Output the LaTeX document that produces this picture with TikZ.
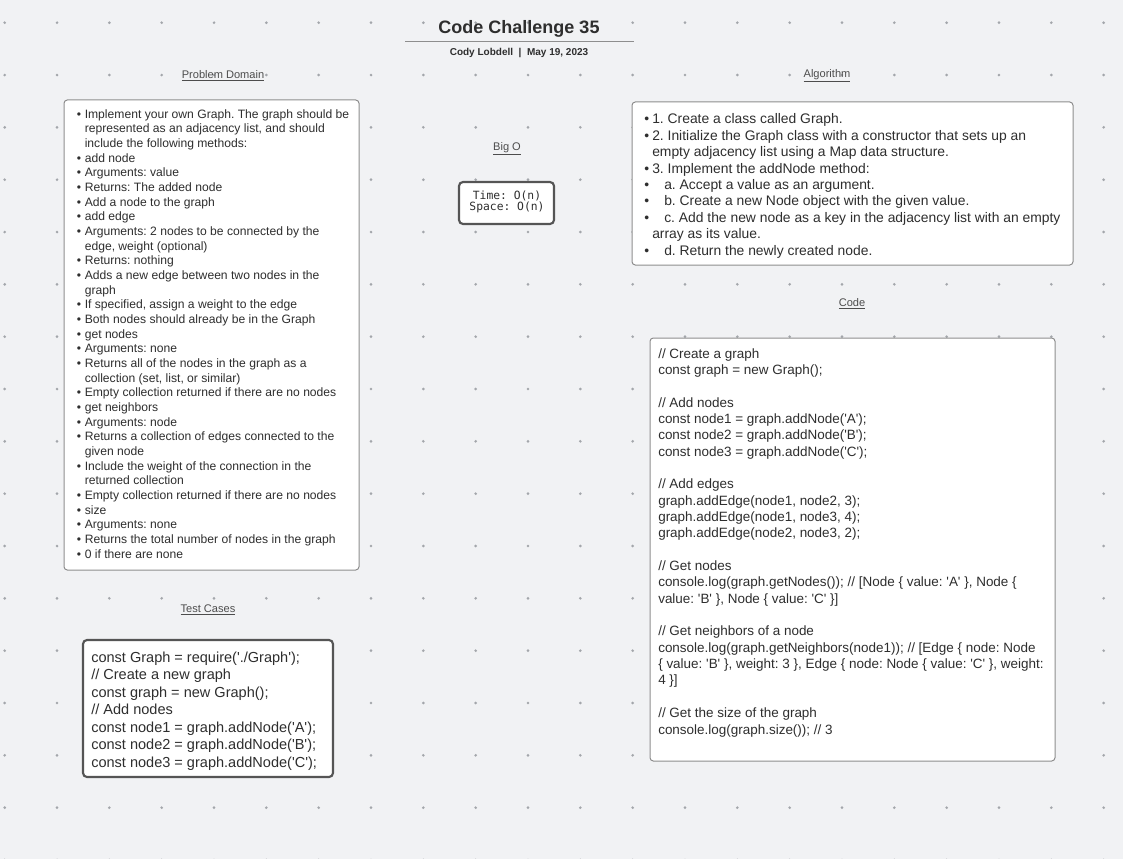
\documentclass[tikz,border=0pt]{standalone}
\usepackage{fontspec}
\setmainfont{Liberation Sans}[Ligatures=TeXOff]
\newfontfamily\monofont{DejaVu Sans Mono}
\frenchspacing
\definecolor{paper}{HTML}{F1F2F4}
\definecolor{griddot}{HTML}{A3A6AB}
\definecolor{ink}{HTML}{2E2E2E}
\definecolor{thinframe}{HTML}{8E8E8E}
\definecolor{thickframe}{HTML}{555555}
\newcommand{\bl}{\makebox[6pt][l]{\textbullet}}
\newcommand{\ind}{\hspace*{6pt}}

\begin{document}
\begin{tikzpicture}[x=0.75pt, y=-0.75pt,
                    heading/.style={font=\fontsize{8.3}{10}\selectfont, text=ink!85, inner sep=0pt},
                    thin panel/.style={draw=thinframe, fill=white, line width=0.75pt, rounded corners=2.5pt},
                    thick panel/.style={draw=thickframe, fill=white, line width=1.6pt, rounded corners=3pt},
                    panel text/.style={anchor=north west, inner sep=0pt, align=left, text=ink}]

  \useasboundingbox (0,0) rectangle (1123,859);
  \fill[paper] (0,0) rectangle (1123,859);
  \foreach \i in {0,...,21}
    \foreach \j in {0,...,16}
      \fill[griddot] (4.7+52.33*\i, 22.7+52.33*\j) circle (1.1pt);

  % title block
  \node[font=\fontsize{13.5}{16}\selectfont\bfseries, text=ink] (title) at (519,28.5) {Code Challenge 35};
  \coordinate (rule l) at (405,42);
  \coordinate (rule r) at (634,42);
  \draw[thinframe, line width=0.75pt] (rule l) -- (rule r);
  \node[font=\fontsize{7.5}{9}\selectfont\bfseries, text=ink] (byline) at (519,52.5) {Cody Lobdell\ \ |\ \ May 19, 2023};

  % headings
  \node[heading] (pd head) at (223,76) {\underline{Problem Domain}};
  \node[heading] (bigo head) at (507,149) {\underline{Big O}};
  \node[heading] (algo head) at (827,76) {\underline{Algorithm}};
  \node[heading] (code head) at (852,304) {\underline{Code}};
  \node[heading] (test head) at (208,610) {\underline{Test Cases}};

  % problem domain
  \draw[thin panel] (64,100) rectangle (359,570);
  \node[panel text, font=\fontsize{9.1}{11}\selectfont] (pd text) at (76.5,109) {%
    \bl Implement your own Graph. The graph should be\\
    \ind represented as an adjacency list, and should\\
    \ind include the following methods:\\
    \bl add node\\
    \bl Arguments: value\\
    \bl Returns: The added node\\
    \bl Add a node to the graph\\
    \bl add edge\\
    \bl Arguments: 2 nodes to be connected by the\\
    \ind edge, weight (optional)\\
    \bl Returns: nothing\\
    \bl Adds a new edge between two nodes in the\\
    \ind graph\\
    \bl If specified, assign a weight to the edge\\
    \bl Both nodes should already be in the Graph\\
    \bl get nodes\\
    \bl Arguments: none\\
    \bl Returns all of the nodes in the graph as a\\
    \ind collection (set, list, or similar)\\
    \bl Empty collection returned if there are no nodes\\
    \bl get neighbors\\
    \bl Arguments: node\\
    \bl Returns a collection of edges connected to the\\
    \ind given node\\
    \bl Include the weight of the connection in the\\
    \ind returned collection\\
    \bl Empty collection returned if there are no nodes\\
    \bl size\\
    \bl Arguments: none\\
    \bl Returns the total number of nodes in the graph\\
    \bl 0 if there are none};

  % big o
  \draw[thick panel] (459,182) rectangle (554,224);
  \node[font=\monofont\fontsize{8.5}{8.7}\selectfont, align=center, text=ink, inner sep=0pt] (bigo text) at (507,202) {Time: O(n)\\Space: O(n)};

  % algorithm
  \draw[thin panel] (632,102) rectangle (1073,265);
  \node[panel text, font=\fontsize{10.4}{12.3}\selectfont] (algo text) at (644,113.5) {%
    \bl 1. Create a class called Graph.\\
    \bl 2. Initialize the Graph class with a constructor that sets up an\\
    \ind empty adjacency list using a Map data structure.\\
    \bl 3. Implement the addNode method:\\
    \bl\hspace*{9pt}a. Accept a value as an argument.\\
    \bl\hspace*{9pt}b. Create a new Node object with the given value.\\
    \bl\hspace*{9pt}c. Add the new node as a key in the adjacency list with an empty\\
    \ind array as its value.\\
    \bl\hspace*{9pt}d. Return the newly created node.};

  % code
  \draw[thin panel] (650,338) rectangle (1055,761);
  \node[panel text, font=\fontsize{10.1}{12.26}\selectfont] (code text) at (658,348) {%
    // Create a graph\\
    const graph = new Graph();\\
    \mbox{}\\
    // Add nodes\\
    const node1 = graph.addNode('A');\\
    const node2 = graph.addNode('B');\\
    const node3 = graph.addNode('C');\\
    \mbox{}\\
    // Add edges\\
    graph.addEdge(node1, node2, 3);\\
    graph.addEdge(node1, node3, 4);\\
    graph.addEdge(node2, node3, 2);\\
    \mbox{}\\
    // Get nodes\\
    console.log(graph.getNodes()); // [Node \{ value: 'A' \}, Node \{\\
    value: 'B' \}, Node \{ value: 'C' \}]\\
    \mbox{}\\
    // Get neighbors of a node\\
    console.log(graph.getNeighbors(node1)); // [Edge \{ node: Node\\
    \{ value: 'B' \}, weight: 3 \}, Edge \{ node: Node \{ value: 'C' \}, weight:\\
    4 \}]\\
    \mbox{}\\
    // Get the size of the graph\\
    console.log(graph.size()); // 3};

  % test cases
  \draw[thick panel] (83,640) rectangle (333,777);
  \node[panel text, font=\fontsize{10.9}{13.1}\selectfont] (test text) at (91,651.5) {%
    const Graph = require('./Graph');\\
    // Create a new graph\\
    const graph = new Graph();\\
    // Add nodes\\
    const node1 = graph.addNode('A');\\
    const node2 = graph.addNode('B');\\
    const node3 = graph.addNode('C');};
\end{tikzpicture}
\end{document}
